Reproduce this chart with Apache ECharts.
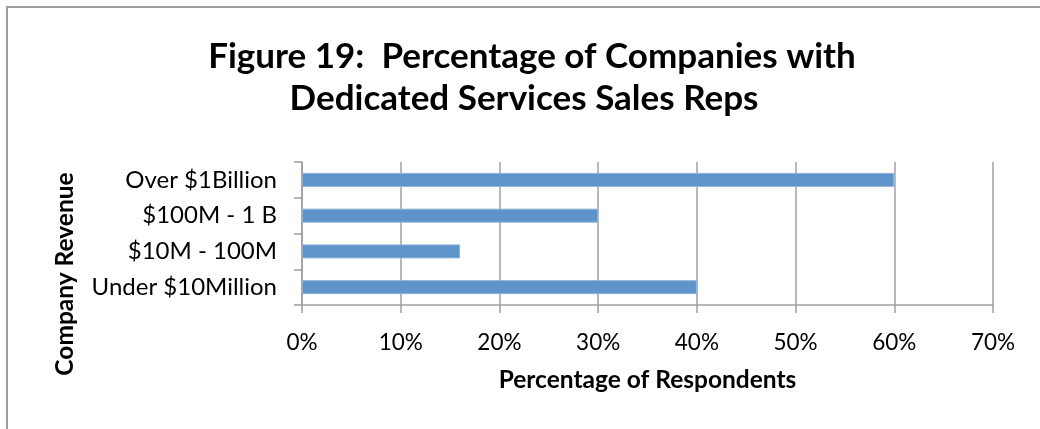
<!DOCTYPE html>
<html>
<head>
<meta charset="utf-8">
<script src="https://cdn.jsdelivr.net/npm/echarts@6/dist/echarts.min.js"></script>
<style>
  html, body { margin: 0; padding: 0; background: #fff; }
  #chart { width: 1040px; height: 429px; }
</style>
</head>
<body>
<div id="chart"></div>
<script>
// Revenue bands, bottom to top on the category axis
const categories = ['Under $10Million', '$10M - 100M', '$100M - 1 B', 'Over $1Billion'];
// Share of companies with dedicated services sales reps (%)
const shareValues = [40, 16, 30, 60];
// Percentage axis range
const axisMin = 0;
const axisMax = 70;
const axisStep = 10;

const FONT = 'Lato, "Open Sans", sans-serif';
const GRID_GREY = '#a0a0a0';

const titleStyle = {
  fontFamily: FONT,
  fontSize: 35,
  fontWeight: 'bold',
  color: '#000'
};

const chart = echarts.init(document.getElementById('chart'), null, { renderer: 'canvas' });

chart.setOption({
  backgroundColor: '#ffffff',
  animation: false,
  title: [
    {
      text: 'Figure 19:  Percentage of Companies with',
      left: 527,
      textAlign: 'center',
      top: 34,
      textStyle: titleStyle
    },
    {
      text: 'Dedicated Services Sales Reps',
      left: 519,
      textAlign: 'center',
      top: 76,
      textStyle: titleStyle
    }
  ],
  graphic: [
    {
      type: 'rect',
      shape: { x: 7, y: 7, width: 1060, height: 460 },
      style: { fill: 'none', stroke: '#9d9d9d', lineWidth: 2 },
      silent: true
    },
    {
      type: 'text',
      x: 65,
      y: 274,
      rotation: Math.PI / 2,
      style: {
        text: 'Company Revenue',
        fontFamily: FONT,
        fontSize: 24.5,
        fontWeight: 'bold',
        fill: '#000',
        align: 'center',
        verticalAlign: 'middle'
      }
    }
  ],
  grid: {
    left: 302,
    right: 47,
    top: 162,
    bottom: 124,
    containLabel: false
  },
  xAxis: {
    type: 'value',
    min: axisMin,
    max: axisMax,
    interval: axisStep,
    name: 'Percentage of Respondents',
    nameLocation: 'middle',
    nameGap: 63,
    nameTextStyle: {
      fontFamily: FONT,
      fontSize: 24.5,
      fontWeight: 'bold',
      color: '#000'
    },
    axisLine: { show: true, lineStyle: { color: GRID_GREY, width: 1.5 } },
    axisTick: { show: true, length: 8, lineStyle: { color: GRID_GREY, width: 1.5 } },
    splitLine: { show: true, lineStyle: { color: GRID_GREY, width: 1.5 } },
    axisLabel: {
      formatter: '{value}%',
      margin: 26,
      fontFamily: FONT,
      fontSize: 22.5,
      color: '#000'
    }
  },
  yAxis: {
    type: 'category',
    data: categories,
    axisLine: { show: true, lineStyle: { color: GRID_GREY, width: 1.5 } },
    axisTick: { show: true, length: 8, lineStyle: { color: GRID_GREY, width: 1.5 } },
    axisLabel: {
      margin: 25,
      fontFamily: FONT,
      fontSize: 24,
      color: '#000'
    }
  },
  series: [
    {
      type: 'bar',
      data: shareValues,
      barWidth: 14,
      itemStyle: {
        color: '#5e94c9',
        borderColor: '#8fb1d9',
        borderWidth: 1
      }
    }
  ]
});
</script>
</body>
</html>
